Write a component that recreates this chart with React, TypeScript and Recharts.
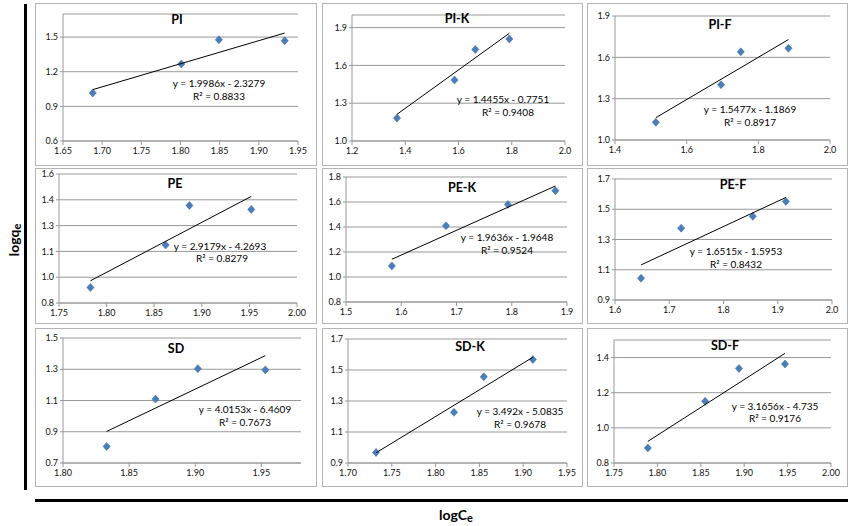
import { ScatterChart, Scatter, XAxis, YAxis, CartesianGrid } from "recharts";

// measured points (logCe, logqe) per adsorbent, plus the fitted line's y at the first/last x
const PI_X = [1.688, 1.801, 1.849, 1.933];
const PI_Y = [1.016, 1.267, 1.477, 1.468];
const PI_FIT = [1.045, 1.535];

const PIK_X = [1.369, 1.585, 1.663, 1.791];
const PIK_Y = [1.182, 1.484, 1.726, 1.81];
const PIK_FIT = [1.212, 1.855];

const PIF_X = [1.514, 1.696, 1.751, 1.884];
const PIF_Y = [1.128, 1.401, 1.64, 1.666];
const PIF_FIT = [1.162, 1.729];

const PE_X = [1.783, 1.862, 1.887, 1.952];
const PE_Y = [0.89, 1.137, 1.367, 1.344];
const PE_FIT = [0.929, 1.42];

const PEK_X = [1.583, 1.681, 1.793, 1.879];
const PEK_Y = [1.089, 1.41, 1.58, 1.691];
const PEK_FIT = [1.142, 1.728];

const PEF_X = [1.648, 1.722, 1.854, 1.915];
const PEF_Y = [1.044, 1.375, 1.453, 1.552];
const PEF_FIT = [1.132, 1.578];

const SD_X = [1.833, 1.87, 1.902, 1.953];
const SD_Y = [0.806, 1.109, 1.304, 1.296];
const SD_FIT = [0.902, 1.387];

const SDK_X = [1.732, 1.821, 1.855, 1.911];
const SDK_Y = [0.968, 1.227, 1.456, 1.567];
const SDK_FIT = [0.966, 1.582];

const SDF_X = [1.789, 1.855, 1.894, 1.947];
const SDF_Y = [0.886, 1.151, 1.338, 1.363];
const SDF_FIT = [0.923, 1.424];

// axis ticks
const PI_XTICKS = [1.65, 1.7, 1.75, 1.8, 1.85, 1.9, 1.95];
const PI_YTICKS = [0.6, 0.9, 1.2, 1.5];
const PIK_XTICKS = [1.2, 1.4, 1.6, 1.8, 2.0];
const PIK_YTICKS = [1.0, 1.3, 1.6, 1.9];
const PIF_XTICKS = [1.4, 1.6, 1.8, 2.0];
const PIF_YTICKS = [1.0, 1.3, 1.6, 1.9];
const PE_XTICKS = [1.75, 1.8, 1.85, 1.9, 1.95, 2.0];
const PE_YTICKS = [0.8, 0.95, 1.1, 1.25, 1.4, 1.55];
const PE_YLABELS = ["0.8", "1.0", "1.1", "1.3", "1.4", "1.6"];
const PEK_XTICKS = [1.5, 1.6, 1.7, 1.8, 1.9];
const PEK_YTICKS = [0.8, 1.0, 1.2, 1.4, 1.6, 1.8];
const PEF_XTICKS = [1.6, 1.7, 1.8, 1.9, 2.0];
const PEF_YTICKS = [0.9, 1.1, 1.3, 1.5, 1.7];
const SD_XTICKS = [1.8, 1.85, 1.9, 1.95];
const SD_YTICKS = [0.7, 0.9, 1.1, 1.3, 1.5];
const SDK_XTICKS = [1.7, 1.75, 1.8, 1.85, 1.9, 1.95];
const SDK_YTICKS = [0.9, 1.1, 1.3, 1.5, 1.7];
const SDF_XTICKS = [1.75, 1.8, 1.85, 1.9, 1.95, 2.0];
const SDF_YTICKS = [0.8, 1.0, 1.2, 1.4];

const FONT = 'Lato, "Liberation Sans", sans-serif';
const BLUE = "#4a7ebb";
const GRID = "#999";

type Panel = {
  title: string;
  eq: string;
  r2: string;
  xs: number[];
  ys: number[];
  fit: number[];
  xDomain: [number, number];
  yDomain: [number, number];
  xTicks: number[];
  yTicks: number[];
  xDec: number;
  yLabels?: string[];
  box: [number, number, number, number];
  yw: number;
  xh: number;
  mt: number;
  mr: number;
  titleAt: [number, number];
  eqAt: [number, number];
  r2At: [number, number];
};

const panels: Panel[] = [
  {
    title: "PI", eq: "y = 1.9986x - 2.3279", r2: "R² = 0.8833",
    xs: PI_X, ys: PI_Y, fit: PI_FIT, xDomain: [1.65, 1.95], yDomain: [0.6, 1.7],
    xTicks: PI_XTICKS, yTicks: PI_YTICKS, xDec: 2,
    box: [35, 3, 282, 163], yw: 28, xh: 25, mt: 11, mr: 19,
    titleAt: [177, 20], eqAt: [219, 83], r2At: [219, 96],
  },
  {
    title: "PI-K", eq: "y = 1.4455x - 0.7751", r2: "R² = 0.9408",
    xs: PIK_X, ys: PIK_Y, fit: PIK_FIT, xDomain: [1.2, 2.0], yDomain: [1.0, 2.0],
    xTicks: PIK_XTICKS, yTicks: PIK_YTICKS, xDec: 1,
    box: [322, 3, 261, 163], yw: 30, xh: 25, mt: 12, mr: 18,
    titleAt: [457, 19], eqAt: [503, 99], r2At: [508, 112],
  },
  {
    title: "PI-F", eq: "y = 1.5477x - 1.1869", r2: "R² = 0.8917",
    xs: PIF_X, ys: PIF_Y, fit: PIF_FIT, xDomain: [1.4, 2.0], yDomain: [1.0, 1.9],
    xTicks: PIF_XTICKS, yTicks: PIF_YTICKS, xDec: 1,
    box: [587, 3, 261, 163], yw: 28, xh: 26, mt: 13, mr: 18,
    titleAt: [720, 25], eqAt: [750, 109], r2At: [750, 122],
  },
  {
    title: "PE", eq: "y = 2.9179x - 4.2693", r2: "R² = 0.8279",
    xs: PE_X, ys: PE_Y, fit: PE_FIT, xDomain: [1.75, 2.0], yDomain: [0.8, 1.55],
    xTicks: PE_XTICKS, yTicks: PE_YTICKS, yLabels: PE_YLABELS, xDec: 2,
    box: [35, 168, 282, 156], yw: 24, xh: 21, mt: 6, mr: 20,
    titleAt: [175, 184], eqAt: [220, 246], r2At: [222, 258],
  },
  {
    title: "PE-K", eq: "y = 1.9636x - 1.9648", r2: "R² = 0.9524",
    xs: PEK_X, ys: PEK_Y, fit: PEK_FIT, xDomain: [1.5, 1.9], yDomain: [0.8, 1.8],
    xTicks: PEK_XTICKS, yTicks: PEK_YTICKS, xDec: 1,
    box: [322, 168, 261, 156], yw: 24, xh: 22, mt: 9, mr: 16,
    titleAt: [462, 188], eqAt: [507, 237], r2At: [507, 250],
  },
  {
    title: "PE-F", eq: "y = 1.6515x - 1.5953", r2: "R² = 0.8432",
    xs: PEF_X, ys: PEF_Y, fit: PEF_FIT, xDomain: [1.6, 2.0], yDomain: [0.9, 1.7],
    xTicks: PEF_XTICKS, yTicks: PEF_YTICKS, xDec: 1,
    box: [587, 168, 261, 156], yw: 28, xh: 24, mt: 11, mr: 16,
    titleAt: [733, 185], eqAt: [736, 251], r2At: [736, 264],
  },
  {
    title: "SD", eq: "y = 4.0153x - 6.4609", r2: "R² = 0.7673",
    xs: SD_X, ys: SD_Y, fit: SD_FIT, xDomain: [1.8, 1.98], yDomain: [0.7, 1.5],
    xTicks: SD_XTICKS, yTicks: SD_YTICKS, xDec: 2,
    box: [35, 328, 282, 159], yw: 28, xh: 24, mt: 10, mr: 16,
    titleAt: [176, 349], eqAt: [245, 409], r2At: [245, 422],
  },
  {
    title: "SD-K", eq: "y = 3.492x - 5.0835", r2: "R² = 0.9678",
    xs: SDK_X, ys: SDK_Y, fit: SDK_FIT, xDomain: [1.7, 1.95], yDomain: [0.9, 1.7],
    xTicks: SDK_XTICKS, yTicks: SDK_YTICKS, xDec: 2,
    box: [322, 328, 261, 159], yw: 26, xh: 24, mt: 11, mr: 16,
    titleAt: [470, 347], eqAt: [520, 411], r2At: [520, 424],
  },
  {
    title: "SD-F", eq: "y = 3.1656x - 4.735", r2: "R² = 0.9176",
    xs: SDF_X, ys: SDF_Y, fit: SDF_FIT, xDomain: [1.75, 2.0], yDomain: [0.8, 1.5],
    xTicks: SDF_XTICKS, yTicks: SDF_YTICKS, xDec: 2,
    box: [587, 328, 261, 159], yw: 27, xh: 24, mt: 12, mr: 17,
    titleAt: [725, 346], eqAt: [775, 406], r2At: [775, 418],
  },
];

const Diamond = (props: any) => {
  const { cx, cy } = props;
  if (cx == null || cy == null) return <g />;
  return (
    <path
      d={`M${cx},${cy - 4}L${cx + 3.6},${cy}L${cx},${cy + 4}L${cx - 3.6},${cy}Z`}
      fill={BLUE}
      stroke="#3b67a0"
      strokeWidth={0.5}
    />
  );
};

const NoDot = () => <g />;

function Txt({ at, children, size, bold }: any) {
  return (
    <div
      style={{
        position: "absolute",
        left: at[0],
        top: at[1],
        transform: "translate(-50%, -50%)",
        whiteSpace: "nowrap",
        fontFamily: FONT,
        fontSize: size,
        fontWeight: bold ? 700 : 400,
        lineHeight: 1,
        color: "#000",
      }}
    >
      {children}
    </div>
  );
}

function PanelChart({ p }: { p: Panel }) {
  const [left, top, w, h] = p.box;
  const pts = p.xs.map((x, i) => ({ x, y: p.ys[i] }));
  const last = p.xs.length - 1;
  const fitLine = [
    { x: p.xs[0], y: p.fit[0] },
    { x: p.xs[last], y: p.fit[1] },
  ];
  const tick = { fontSize: 9, fill: "#111", fontFamily: FONT };
  return (
    <>
      <div
        style={{
          position: "absolute",
          left,
          top,
          width: w,
          height: h,
          boxSizing: "border-box",
          border: "1.5px solid #b4b4b4",
        }}
      />
      <div style={{ position: "absolute", left, top }}>
        <ScatterChart width={w} height={h} margin={{ top: p.mt, right: p.mr, bottom: 0, left: 0 }}>
          <CartesianGrid vertical={false} stroke={GRID} strokeWidth={1} />
          <XAxis
            type="number"
            dataKey="x"
            domain={p.xDomain}
            ticks={p.xTicks}
            interval={0}
            allowDataOverflow
            height={p.xh}
            tick={tick}
            tickSize={4}
            tickMargin={3}
            stroke={GRID}
            tickFormatter={(v: number) => v.toFixed(p.xDec)}
          />
          <YAxis
            type="number"
            dataKey="y"
            domain={p.yDomain}
            ticks={p.yTicks}
            interval={0}
            allowDataOverflow
            width={p.yw}
            tick={tick}
            tickSize={3}
            tickMargin={2}
            stroke={GRID}
            tickFormatter={(v: number, i: number) => (p.yLabels ? p.yLabels[i] : v.toFixed(1))}
          />
          <Scatter data={pts} shape={Diamond} isAnimationActive={false} />
          <Scatter
            data={fitLine}
            shape={NoDot}
            line={{ stroke: "#000", strokeWidth: 1 }}
            isAnimationActive={false}
          />
        </ScatterChart>
      </div>
      <Txt at={p.titleAt} size={12.5} bold>
        {p.title}
      </Txt>
      <Txt at={p.eqAt} size={10}>
        {p.eq}
      </Txt>
      <Txt at={p.r2At} size={10}>
        {p.r2}
      </Txt>
    </>
  );
}

export default function App() {
  return (
    <div
      style={{
        position: "relative",
        width: 851,
        height: 526,
        background: "#fff",
        overflow: "hidden",
        fontFamily: FONT,
      }}
    >
      <style>{`body{margin:0}`}</style>
      {panels.map((p) => (
        <PanelChart key={p.title} p={p} />
      ))}
      {/* thick frame lines of the figure */}
      <div style={{ position: "absolute", left: 24, top: 4, width: 3, height: 486, background: "#000" }} />
      <div style={{ position: "absolute", left: 35, top: 499, width: 813, height: 3, background: "#000" }} />
      <div
        style={{
          position: "absolute",
          left: 14,
          top: 240,
          transform: "translate(-50%, -50%) rotate(-90deg)",
          fontFamily: FONT,
          fontWeight: 700,
          fontSize: 14,
          whiteSpace: "nowrap",
          lineHeight: 1,
        }}
      >
        logq<span style={{ fontSize: 11, position: "relative", top: 2 }}>e</span>
      </div>
      <Txt at={[456, 515]} size={14} bold>
        logC<span style={{ fontSize: 11, position: "relative", top: 2 }}>e</span>
      </Txt>
    </div>
  );
}
